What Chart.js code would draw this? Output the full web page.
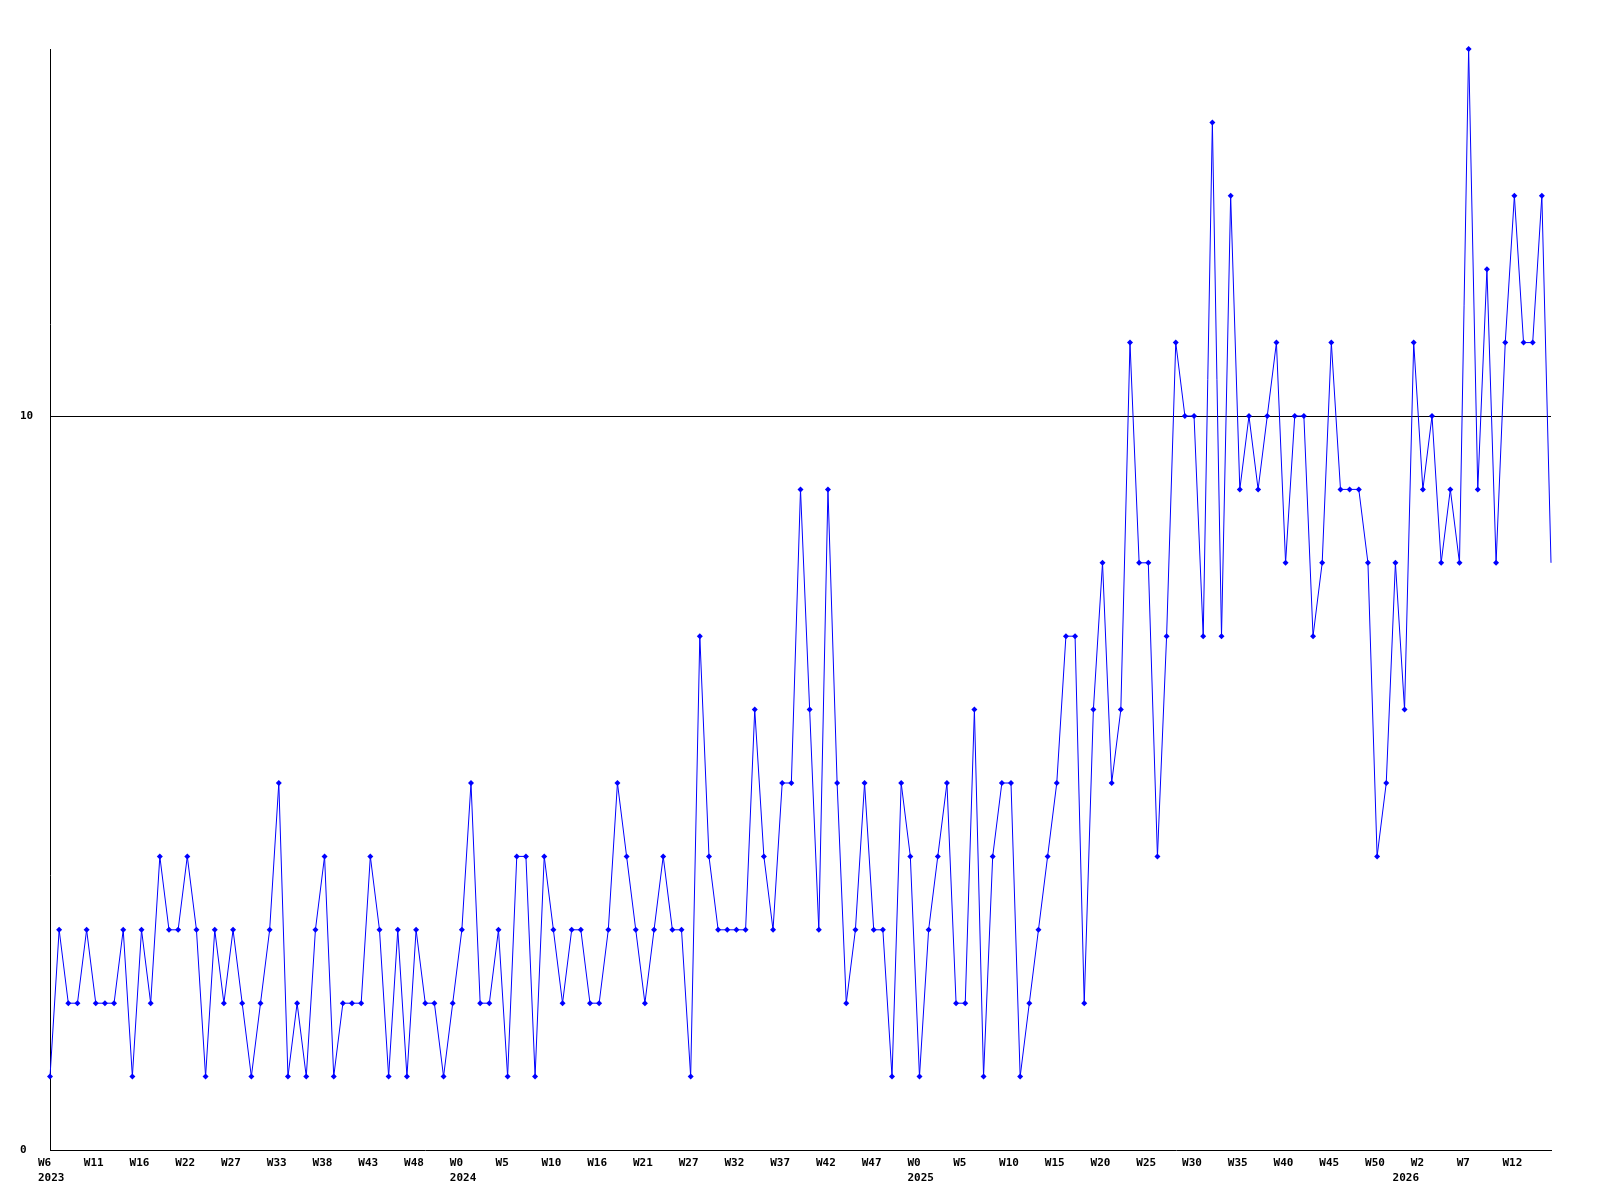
<!DOCTYPE html>
<html>
<head>
<meta charset="utf-8">
<title>Weekly count</title>
<script src="https://cdn.jsdelivr.net/npm/chart.js@4.4.1/dist/chart.umd.min.js"></script>
<style>
  html, body { margin: 0; padding: 0; background: #fff; }
  #chart { display: block; }
</style>
</head>
<body>
<canvas id="chart" width="1600" height="1200"></canvas>
<script>
// one value per week, W6 2023 .. W15 2026
const counts = [
    1, 3, 2, 2, 3, 2, 2, 2, 3, 1,
    3, 2, 4, 3, 3, 4, 3, 1, 3, 2,
    3, 2, 1, 2, 3, 5, 1, 2, 1, 3,
    4, 1, 2, 2, 2, 4, 3, 1, 3, 1,
    3, 2, 2, 1, 2, 3, 5, 2, 2, 3,
    1, 4, 4, 1, 4, 3, 2, 3, 3, 2,
    2, 3, 5, 4, 3, 2, 3, 4, 3, 3,
    1, 7, 4, 3, 3, 3, 3, 6, 4, 3,
    5, 5, 9, 6, 3, 9, 5, 2, 3, 5,
    3, 3, 1, 5, 4, 1, 3, 4, 5, 2,
    2, 6, 1, 4, 5, 5, 1, 2, 3, 4,
    5, 7, 7, 2, 6, 8, 5, 6, 11, 8,
    8, 4, 7, 11, 10, 10, 7, 14, 7, 13,
    9, 10, 9, 10, 11, 8, 10, 10, 7, 8,
    11, 9, 9, 9, 8, 4, 5, 8, 6, 11,
    9, 10, 8, 9, 8, 15, 9, 12, 8, 11,
    13, 11, 11, 13, 8
];

// week labels shown on the x axis (point index -> text)
const tickIndex = [0, 5, 10, 15, 20, 25, 30, 35, 40, 45, 50, 55, 60, 65, 70, 75, 80,
    85, 90, 95, 100, 105, 110, 115, 120, 125, 130, 135, 140, 145, 150, 155, 160];
const tickText = ['W6', 'W11', 'W16', 'W22', 'W27', 'W33', 'W38', 'W43', 'W48',
    'W0', 'W5', 'W10', 'W16', 'W21', 'W27', 'W32', 'W37', 'W42', 'W47',
    'W0', 'W5', 'W10', 'W15', 'W20', 'W25', 'W30', 'W35', 'W40', 'W45', 'W50',
    'W2', 'W7', 'W12'];

// year labels on the second line
const yearIndex = [0, 45, 95, 148];
const yearText = ['2023', '2024', '2025', '2026'];

const yTicks = [0, 10];
const yMax = 15;

let labels = counts.map(function (v, i) {
    let w = tickIndex.indexOf(i);
    let y = yearIndex.indexOf(i);
    let week = w >= 0 ? tickText[w] : '';
    if (y >= 0) {
        return [week, yearText[y]];
    }
    return week;
});

let tickFont = {
    family: 'DejaVu Sans Mono',
    size: 11,
    weight: 'bold',
    lineHeight: 1.4
};

let ctx = document.getElementById('chart').getContext('2d');

new Chart(ctx, {
    type: 'line',
    data: {
        labels: labels,
        datasets: [{
            data: counts,
            borderColor: '#0000ff',
            backgroundColor: '#0000ff',
            borderWidth: 1,
            tension: 0,
            fill: false,
            pointStyle: 'rectRot',
            pointRadius: function (c) {
                return c.dataIndex === counts.length - 1 ? 0 : 3;
            },
            pointBorderWidth: 0,
            pointBackgroundColor: '#0000ff',
            clip: false
        }]
    },
    options: {
        responsive: false,
        animation: false,
        devicePixelRatio: 1,
        layout: {
            padding: { left: 20, top: 49, right: 49, bottom: 0 }
        },
        plugins: {
            legend: { display: false },
            tooltip: { enabled: false }
        },
        scales: {
            x: {
                type: 'category',
                offset: false,
                grid: { display: false },
                border: { display: true, color: '#000', width: 1 },
                ticks: {
                    autoSkip: false,
                    maxRotation: 0,
                    minRotation: 0,
                    align: 'start',
                    labelOffset: -12,
                    padding: -3,
                    color: '#000',
                    font: tickFont
                },
                afterFit: function (scale) {
                    scale.height = 50;
                }
            },
            y: {
                min: 0,
                max: yMax,
                afterBuildTicks: function (scale) {
                    scale.ticks = yTicks.map(function (v) { return { value: v }; });
                },
                grid: {
                    drawTicks: false,
                    lineWidth: 1,
                    color: function (c) {
                        return c.tick && c.tick.value === 10 ? '#000' : 'rgba(0,0,0,0)';
                    }
                },
                border: { display: true, color: '#000', width: 1 },
                ticks: {
                    crossAlign: 'far',
                    padding: 6,
                    color: '#000',
                    font: tickFont
                },
                afterFit: function (scale) {
                    scale.width = 30;
                }
            }
        }
    }
});
</script>
</body>
</html>
